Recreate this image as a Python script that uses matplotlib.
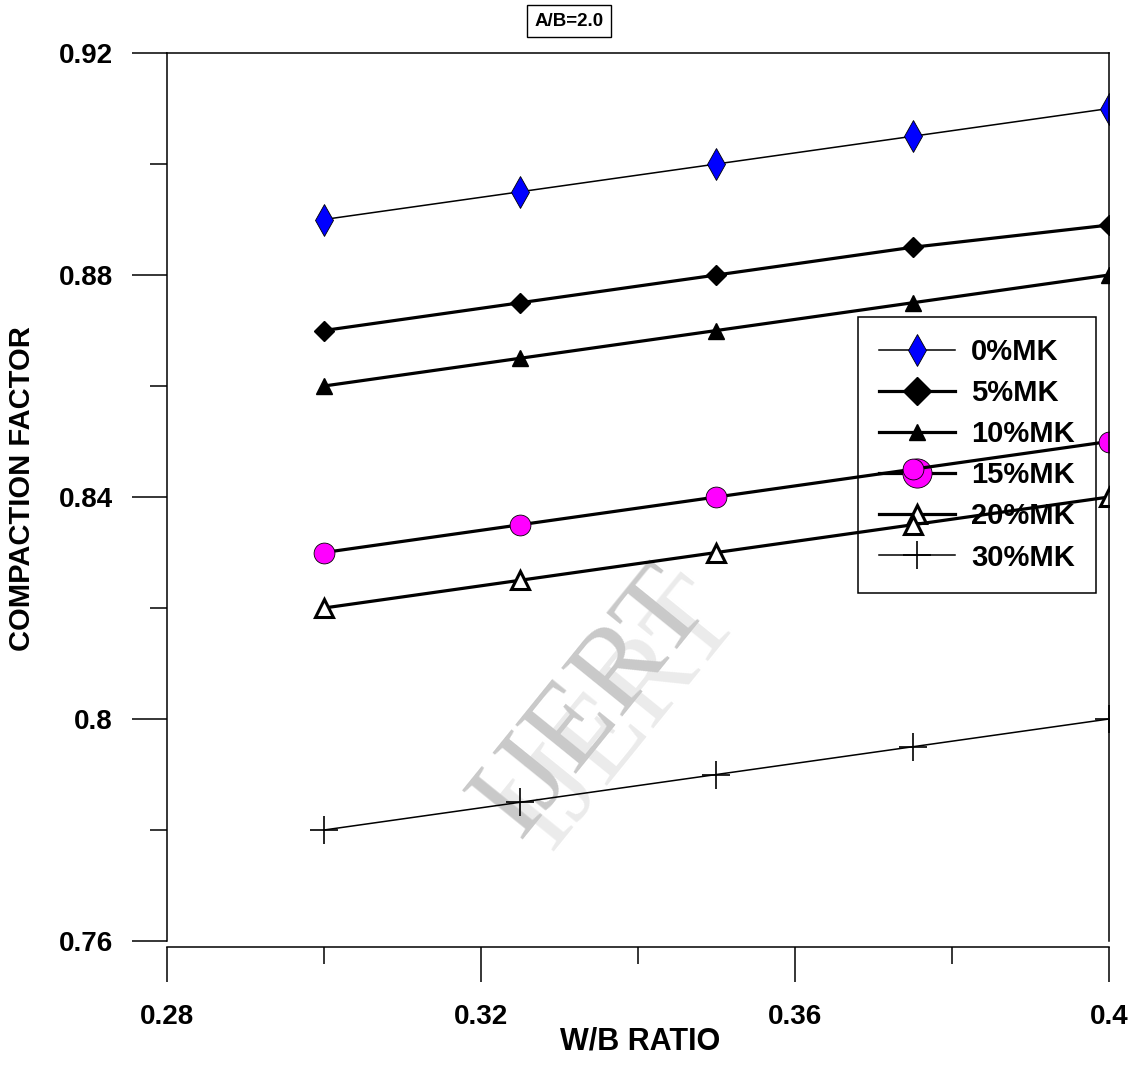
import numpy as np
import matplotlib
matplotlib.use('Agg')
import matplotlib.pyplot as plt

plt.rcParams['font.family'] = ['Liberation Sans', 'DejaVu Sans']
plt.rcParams['font.weight'] = 'bold'

# W/B ratio on x, compaction factor on y
wb = [0.30, 0.325, 0.35, 0.375, 0.40]
mk0 = [0.890, 0.895, 0.900, 0.905, 0.910]
mk5 = [0.870, 0.875, 0.880, 0.885, 0.889]
mk10 = [0.860, 0.865, 0.870, 0.875, 0.880]
mk15 = [0.830, 0.835, 0.840, 0.845, 0.850]
mk20 = [0.820, 0.825, 0.830, 0.835, 0.840]
mk30 = [0.780, 0.785, 0.790, 0.795, 0.800]
labels = ['0%MK', '5%MK', '10%MK', '15%MK', '20%MK', '30%MK']
xticks = [0.28, 0.32, 0.36, 0.40]
xtick_labels = ['0.28', '0.32', '0.36', '0.4']
yticks = [0.76, 0.80, 0.84, 0.88, 0.92]
ytick_labels = ['0.76', '0.8', '0.84', '0.88', '0.92']

W, H = 1137, 1065
fig = plt.figure(figsize=(W / 100, H / 100), dpi=100)
ax = fig.add_axes([167 / W, 1 - 941 / H, (1109 - 167) / W, (941 - 53) / H])

# watermark, under everything
ax.text(0.485, 0.255, 'IJERT', transform=ax.transAxes, rotation=51,
        fontsize=86, family='Liberation Serif', weight='normal',
        color='#ebebeb', ha='center', va='center', zorder=0)
ax.text(0.452, 0.268, 'IJERT', transform=ax.transAxes, rotation=51,
        fontsize=86, family='Liberation Serif', weight='normal',
        color='#c9c9c9', ha='center', va='center', zorder=0)

ax.plot(wb, mk0, color='black', lw=1.1, marker='d', ms=16,
        mfc='blue', mec='black', mew=0.6, label=labels[0])
ax.plot(wb, mk5, color='black', lw=2.3, marker='D', ms=10,
        mfc='black', mec='black', label=labels[1])
ax.plot(wb, mk10, color='black', lw=2.3, marker='^', ms=12,
        mfc='black', mec='black', label=labels[2])
ax.plot(wb, mk15, color='black', lw=2.3, marker='o', ms=15,
        mfc='magenta', mec='black', mew=0.6, label=labels[3])
ax.plot(wb, mk20, color='black', lw=2.3, marker='^', ms=13,
        mfc='white', mec='black', mew=2.2, label=labels[4])
ax.plot(wb, mk30, color='black', lw=1.1, marker='+', ms=20,
        mec='black', mew=1.2, label=labels[5])

ax.set_xlim(0.28, 0.40)
ax.set_ylim(0.76, 0.92)
ax.set_xticks(xticks)
ax.set_xticklabels(xtick_labels)
ax.set_xticks([0.30, 0.34, 0.38], minor=True)
ax.set_yticks(yticks)
ax.set_yticklabels(ytick_labels)
ax.set_yticks([0.78, 0.82, 0.86, 0.90], minor=True)

ax.tick_params(which='major', direction='out', length=25, width=1.1,
               labelsize=20, pad=14)
ax.tick_params(which='minor', direction='out', length=12, width=1.1)
ax.tick_params(axis='x', which='major', pad=16)
for sp in ax.spines.values():
    sp.set_linewidth(1.1)
ax.spines['bottom'].set_position(('outward', 4))

ax.set_xlabel('W/B RATIO', fontsize=22, fontweight='bold')
ax.set_ylabel('COMPACTION FACTOR', fontsize=21, fontweight='bold')
ax.xaxis.set_label_coords(0.502, -0.113)
ax.xaxis.label.set_va('center')
ax.yaxis.set_label_coords(-0.154, 0.51)
ax.yaxis.label.set_va('center')

leg = ax.legend(loc='upper left', bbox_to_anchor=(858 / W, 1 - 317 / H),
                bbox_transform=fig.transFigure, fontsize=21, frameon=True,
                fancybox=False, edgecolor='black', framealpha=1,
                handlelength=2.6, handletextpad=0.55, labelspacing=0.45,
                borderpad=0.72, borderaxespad=0)
leg.get_frame().set_linewidth(1.1)
leg.set_zorder(1)
hs = leg.legend_handles
hs[1].set_markersize(14)
hs[3].set_markersize(21)

fig.text(569 / W, 1 - 21 / H, 'A/B=2.0', fontsize=13.5, fontweight='bold',
         ha='center', va='center',
         bbox=dict(boxstyle='square,pad=0.4', fc='white', ec='black', lw=1))

fig.savefig('out.png', dpi=100)
